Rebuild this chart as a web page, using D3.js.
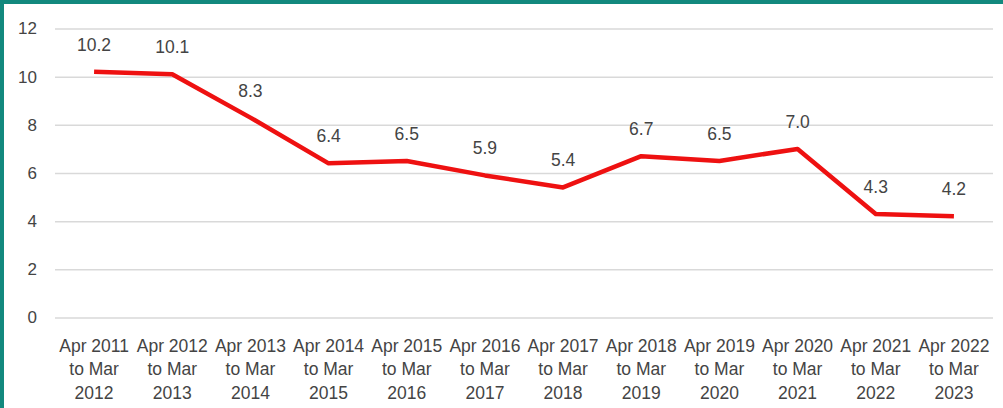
<!DOCTYPE html>
<html>
<head>
<meta charset="utf-8">
<script src="https://cdn.jsdelivr.net/npm/d3@7"></script>
<style>
  body { margin: 0; background: #fff; }
  svg text { font-family: "Liberation Sans", Arial, sans-serif; }
</style>
</head>
<body>
<div id="container"></div>
<script>
/* DATA */
const periods = [
  "Apr 2011 to Mar 2012", "Apr 2012 to Mar 2013", "Apr 2013 to Mar 2014",
  "Apr 2014 to Mar 2015", "Apr 2015 to Mar 2016", "Apr 2016 to Mar 2017",
  "Apr 2017 to Mar 2018", "Apr 2018 to Mar 2019", "Apr 2019 to Mar 2020",
  "Apr 2020 to Mar 2021", "Apr 2021 to Mar 2022", "Apr 2022 to Mar 2023"
];
const values = [10.2, 10.1, 8.3, 6.4, 6.5, 5.9, 5.4, 6.7, 6.5, 7.0, 4.3, 4.2];
const yTicks = [0, 2, 4, 6, 8, 10, 12];

/* CONSTANTS */
const width = 1003,
  height = 408,
  margin = { top: 28.5, bottom: 90.5, left: 55, right: 10 };

const svg = d3.select("#container")
  .append("svg")
  .attr("width", width)
  .attr("height", height);

// teal frame along top and left
svg.append("rect").attr("x", 0).attr("y", 0).attr("width", width).attr("height", 4).attr("fill", "#12897e");
svg.append("rect").attr("x", 0).attr("y", 0).attr("width", 4).attr("height", height).attr("fill", "#12897e");

/* SCALES */
const xScale = d3.scaleBand()
  .domain(periods)
  .range([margin.left, width - margin.right]);

const yScale = d3.scaleLinear()
  .domain([0, 12])
  .range([height - margin.bottom, margin.top]);

const cx = d => xScale(d) + xScale.bandwidth() / 2;

/* AXES */
const yAxis = d3.axisLeft(yScale)
  .tickValues(yTicks)
  .tickSize(-(width - margin.left - margin.right))
  .tickPadding(18);

svg.append("g")
  .attr("transform", `translate(${margin.left},0)`)
  .call(yAxis)
  .call(g => g.select(".domain").remove())
  .call(g => g.selectAll("line").attr("stroke", "#d9d9d9").attr("stroke-width", 1.5))
  .call(g => g.selectAll("text")
    .attr("fill", "#444")
    .style("font-size", "17px"));

const xAxis = d3.axisBottom(xScale).tickSize(0).tickFormat("");

const xg = svg.append("g")
  .attr("transform", `translate(0,${height - margin.bottom})`)
  .call(xAxis);
xg.select(".domain").remove();

xg.selectAll(".tick").append("text")
  .attr("fill", "#444")
  .attr("text-anchor", "middle")
  .style("font-size", "17.5px")
  .selectAll("tspan")
  .data(d => {
    const m = d.match(/^(Apr \d+) (to Mar) (\d+)$/);
    return [m[1], m[2], m[3]];
  })
  .join("tspan")
  .attr("x", 0)
  .attr("y", (d, i) => 34 + i * 23.5)
  .text(d => d);

/* LINE */
const line = d3.line()
  .x((d, i) => cx(periods[i]))
  .y(d => yScale(d));

svg.append("path")
  .datum(values)
  .attr("d", line)
  .attr("fill", "none")
  .attr("stroke", "#ee1111")
  .attr("stroke-width", 4.5)
  .attr("stroke-linejoin", "round");

/* DATA LABELS */
svg.selectAll("text.lbl")
  .data(values)
  .join("text")
  .attr("class", "lbl")
  .attr("x", (d, i) => cx(periods[i]))
  .attr("y", d => yScale(d) - 21)
  .attr("text-anchor", "middle")
  .attr("fill", "#444")
  .style("font-size", "17.5px")
  .text(d => d.toFixed(1));
</script>
</body>
</html>
